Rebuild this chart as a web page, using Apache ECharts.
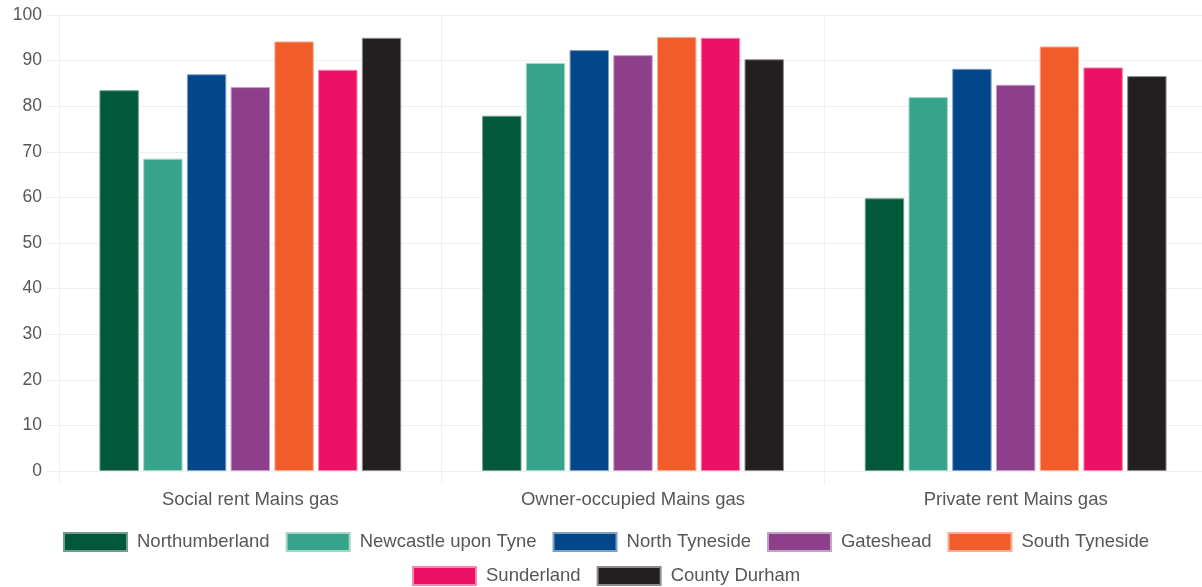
<!DOCTYPE html>
<html>
<head>
<meta charset="utf-8">
<title>Mains gas by tenure</title>
<script src="https://cdn.jsdelivr.net/npm/echarts@6/dist/echarts.min.js"></script>
<style>
  html, body { margin: 0; padding: 0; background: #ffffff; }
  #chart { width: 1202px; height: 587px; }
</style>
</head>
<body>
<div id="chart"></div>
<script>
// Tenure groups along the x axis
const categories = ['Social rent Mains gas', 'Owner-occupied Mains gas', 'Private rent Mains gas'];

// Share of homes on mains gas (%) per area, one value per tenure group
const northumberland = [83.5, 77.9, 59.8];
const newcastle      = [68.5, 89.5, 82.0];
const northTyneside  = [87.0, 92.3, 88.2];
const gateshead      = [84.2, 91.2, 84.7];
const southTyneside  = [94.2, 95.2, 93.1];
const sunderland     = [88.0, 95.0, 88.5];
const countyDurham   = [95.0, 90.3, 86.6];

const seriesNames = ['Northumberland', 'Newcastle upon Tyne', 'North Tyneside', 'Gateshead',
                     'South Tyneside', 'Sunderland', 'County Durham'];
const seriesValues = [northumberland, newcastle, northTyneside, gateshead,
                      southTyneside, sunderland, countyDurham];
const colors = ['#02583a', '#35a48a', '#02478a', '#8e3f8c', '#f15d2a', '#ec1164', '#231f20'];
const borders = ['#6f9e8a', '#a6d6ca', '#7fa0c4', '#c59fc4', '#f8ae94', '#f588b1', '#8f8c8c'];

// y axis ticks
const yMin = 0, yMax = 100, yStep = 10;

const textColor = '#575757';
const lineColor = '#efefef';
const fontFamily = '"Liberation Sans", Arial, sans-serif';

const chart = echarts.init(document.getElementById('chart'), null, { renderer: 'canvas' });

const legendText = { fontSize: 18.5, color: textColor, fontFamily: fontFamily, padding: [0, 0, 0, 5] };

chart.setOption({
  animation: false,
  color: colors,
  textStyle: { fontFamily: fontFamily },
  grid: { left: 59, top: 15, width: 1148, height: 456, containLabel: false, outerBoundsMode: 'none' },
  legend: [
    {
      data: seriesNames.slice(0, 5),
      left: 58, top: 527,
      itemWidth: 63, itemHeight: 18, itemGap: 16,
      icon: 'rect',
      textStyle: legendText
    },
    {
      data: seriesNames.slice(5),
      left: 407, top: 561,
      itemWidth: 63, itemHeight: 18, itemGap: 16,
      icon: 'rect',
      textStyle: legendText
    }
  ],
  xAxis: {
    type: 'category',
    data: categories,
    boundaryGap: true,
    axisLine: { show: false },
    axisTick: { show: true, length: 13, lineStyle: { color: lineColor } },
    splitLine: { show: true, lineStyle: { color: lineColor, width: 1 } },
    axisLabel: { fontSize: 18.5, color: textColor, margin: 19, fontFamily: fontFamily }
  },
  yAxis: {
    type: 'value',
    min: yMin, max: yMax, interval: yStep,
    axisLine: { show: false },
    axisTick: { show: true, length: 13, lineStyle: { color: lineColor } },
    splitLine: { show: true, lineStyle: { color: lineColor, width: 1 } },
    axisLabel: { fontSize: 17.5, color: textColor, margin: 17, fontFamily: fontFamily }
  },
  series: seriesNames.map((name, i) => ({
    name: name,
    type: 'bar',
    data: seriesValues[i],
    barWidth: 39.4,
    barGap: '11%',
    itemStyle: { color: colors[i], borderColor: borders[i], borderWidth: 1 },
    emphasis: { disabled: true }
  }))
});
</script>
</body>
</html>
